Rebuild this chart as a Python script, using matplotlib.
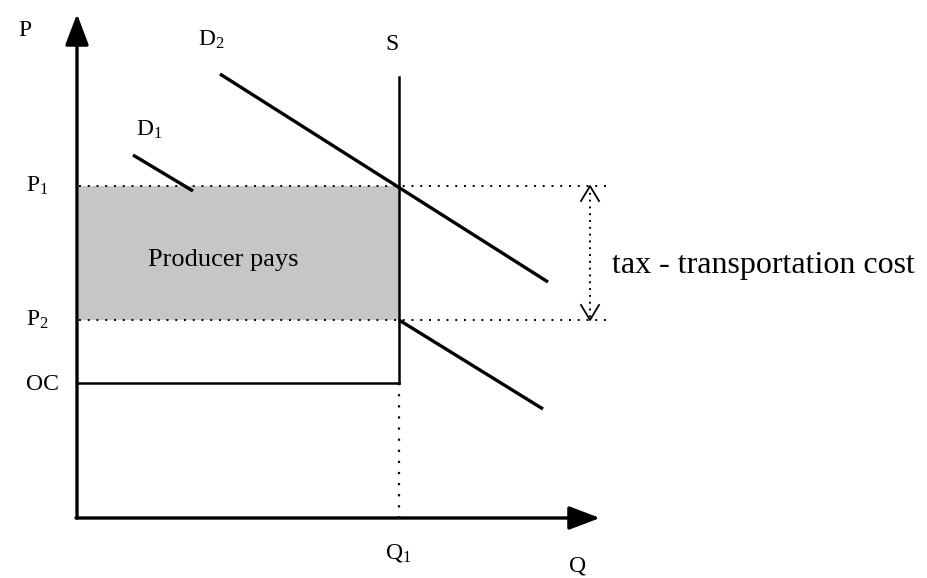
import matplotlib.pyplot as plt
from matplotlib.patches import Rectangle

plt.rcParams['font.family'] = ['Liberation Serif', 'DejaVu Serif']
plt.rcParams['mathtext.fontset'] = 'custom'
plt.rcParams['mathtext.rm'] = 'Liberation Serif'
plt.rcParams['mathtext.it'] = 'Liberation Serif'
plt.rcParams['hatch.color'] = '#808080'

# diagram values (quantity axis to the right, price axis downward as in image space)
origin_q, origin_p = 77, 518
q_axis_end = 600
p_axis_top = 14
q1 = 399
p1, p2, oc = 186, 320, 383
s_top = 77
guide_end = 610
tax_q = 590

d1_q = [133, 193]
d1_p = [155, 191]
d2_q = [220, 548]
d2_p = [74, 282]
d2_net_q = [399, 543]
d2_net_p = [320, 409]

labels = ['P', 'D$_2$', 'S', 'D$_1$', 'P$_1$', 'P$_2$', 'OC', 'Q$_1$', 'Q']
label_q = [25, 211, 392, 149, 37, 37, 42, 398, 578]
label_p = [31, 40, 45, 130, 186, 320, 385, 553, 566]

fig = plt.figure(figsize=(9.28, 5.78), dpi=100)
ax = fig.add_axes([0, 0, 1, 1])
ax.set_xlim(0, 928)
ax.set_ylim(578, 0)
ax.axis('off')

# shaded "producer pays" area
ax.add_patch(Rectangle((origin_q + 2, p1), q1 - origin_q - 2, p2 - p1,
                       facecolor='#c6c6c6', edgecolor='none', hatch='.....',
                       linewidth=0, zorder=1))

# axes with filled arrow heads
arrow = dict(arrowstyle='-|>,head_length=0.95,head_width=0.36', color='black',
             lw=2.4, mutation_scale=20, shrinkA=0, shrinkB=0)
ax.annotate('', xy=(origin_q, p_axis_top), xytext=(origin_q, origin_p), arrowprops=arrow)
ax.annotate('', xy=(q_axis_end, origin_p), xytext=(origin_q - 1, origin_p), arrowprops=arrow)

# curves
ax.plot(d1_q, d1_p, color='black', lw=2.4, solid_capstyle='butt')
ax.plot(d2_q, d2_p, color='black', lw=2.4, solid_capstyle='butt')
ax.plot(d2_net_q, d2_net_p, color='black', lw=2.4, solid_capstyle='butt')
ax.plot([q1, q1], [s_top, oc], color='black', lw=1.8)
ax.plot([origin_q, q1], [oc, oc], color='black', lw=1.8)
ax.plot([q1, q1], [oc, origin_p], color='black', lw=1.6, ls=(0, (1, 4)))

# dotted price guides
for p in [p1, p2]:
    ax.plot([origin_q + 2, guide_end], [p, p], color='black', lw=1.4, ls=(0, (1, 3.5)))

# tax wedge arrow: dotted shaft with open chevrons
ax.plot([tax_q, tax_q], [p1, p2], color='black', lw=1.4, ls=(0, (1, 2.5)))
hw, hl = 9, 15
ax.plot([tax_q - hw, tax_q, tax_q + hw], [p1 + hl, p1, p1 + hl], color='black', lw=1.3)
ax.plot([tax_q - hw, tax_q, tax_q + hw], [p2 - hl, p2, p2 - hl], color='black', lw=1.3)

for txt, x, y in zip(labels, label_q, label_p):
    ax.text(x, y, txt, fontsize=17, ha='center', va='center')

ax.text(223, 260, 'Producer pays', fontsize=19, ha='center', va='center')
ax.text(612, 265, 'tax - transportation cost', fontsize=23, ha='left', va='center')

fig.savefig('out.png', dpi=100)
